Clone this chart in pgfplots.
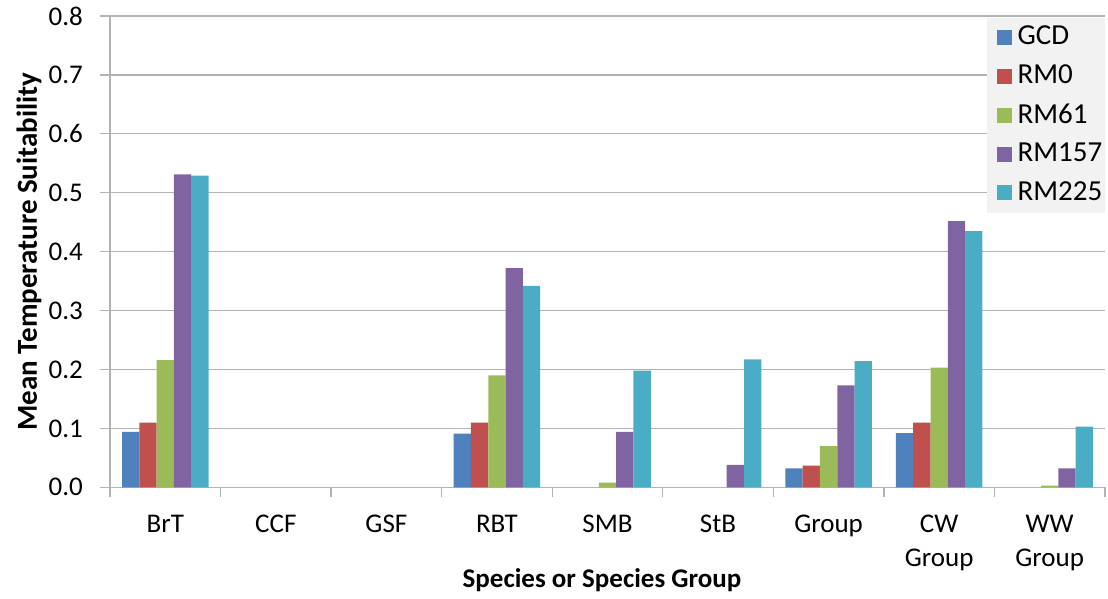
\documentclass[border=0pt]{standalone}
\usepackage{fontspec}
\setmainfont{Carlito}
\usepackage{pgfplots}
\pgfplotsset{compat=1.18}
\definecolor{cGCD}{HTML}{4F81BD}
\definecolor{cRMa}{HTML}{C0504D}
\definecolor{cRMb}{HTML}{9BBB59}
\definecolor{cRMc}{HTML}{8064A2}
\definecolor{cRMd}{HTML}{4BACC6}
\definecolor{gridgray}{HTML}{B3B3B3}
\definecolor{leggray}{HTML}{F2F2F2}
\begin{document}
\fontsize{26}{31}\selectfont
\begin{tikzpicture}
\useasboundingbox (-110pt,-110.7pt) rectangle (998pt,487.3pt);
\begin{axis}[
  scale only axis, width=995pt, height=471.3pt,
  xmin=-0.5, xmax=8.5, ymin=0, ymax=0.8,
  ybar=0pt, bar width=17.3pt,
  axis x line*=bottom, axis y line*=left,
  axis line style={draw=gridgray, line width=1.3pt, -},
  xtick={0,1,2,3,4,5,6,7,8},
  xticklabels={BrT,CCF,GSF,RBT,SMB,StB,Group,CW\\Group,WW\\Group},
  xticklabel style={align=center, font=\fontsize{27}{34}\selectfont, inner sep=0pt, yshift=-17.7pt},
  major x tick style={draw=none},
  minor xtick={-0.5,0.5,1.5,2.5,3.5,4.5,5.5,6.5,7.5,8.5},
  minor x tick style={draw=gridgray, line width=1.3pt},
  minor tick length=10pt,
  major tick length=10pt,
  tick align=outside,
  ytick={0,0.1,0.2,0.3,0.4,0.5,0.6,0.7,0.8},
  y tick label style={/pgf/number format/.cd, fixed, fixed zerofill, precision=1, /tikz/.cd, inner sep=0pt, xshift=-17pt, font=\fontsize{27}{31}\selectfont},
  /pgf/number format/assume math mode=true,
  major y tick style={draw=gridgray, line width=1.3pt},
  ymajorgrids, grid style={draw=gridgray, line width=1.3pt},
  xlabel={\bfseries Species or Species Group},
  ylabel={\bfseries Mean Temperature Suitability},
  xlabel style={at={(axis description cs:0.4945,-0.1967)}, anchor=center, font=\fontsize{27}{31}\selectfont},
  ylabel style={at={(axis description cs:-0.0814,0.5)}, anchor=center, font=\fontsize{29}{34}\selectfont},
  legend style={at={(1,0.997)}, anchor=north east, fill=leggray, draw=none,
    font=\fontsize{29}{34}\selectfont, inner xsep=1pt, inner ysep=7pt, row sep=13pt,
    nodes={inner sep=1.5pt}},
  legend cell align=left,
  mylegend/.style={legend image code/.code={\path (0pt,0pt) (28pt,0pt); \fill[##1] (9pt,-7.5pt) rectangle (24pt,7.5pt);}},
]
\addplot[fill=cGCD, draw=none, mylegend] coordinates {(0,0.094) (3,0.091) (6,0.032) (7,0.092)};
\addplot[fill=cRMa, draw=none, mylegend] coordinates {(0,0.110) (3,0.110) (6,0.037) (7,0.110)};
\addplot[fill=cRMb, draw=none, mylegend] coordinates {(0,0.216) (3,0.190) (4,0.008) (6,0.070) (7,0.203) (8,0.003)};
\addplot[fill=cRMc, draw=none, mylegend] coordinates {(0,0.531) (3,0.372) (4,0.094) (5,0.038) (6,0.173) (7,0.452) (8,0.032)};
\addplot[fill=cRMd, draw=none, mylegend] coordinates {(0,0.529) (3,0.342) (4,0.198) (5,0.217) (6,0.214) (7,0.435) (8,0.103)};
\legend{GCD,RM0,RM61,RM157,RM225}
\end{axis}
\end{tikzpicture}
\end{document}
